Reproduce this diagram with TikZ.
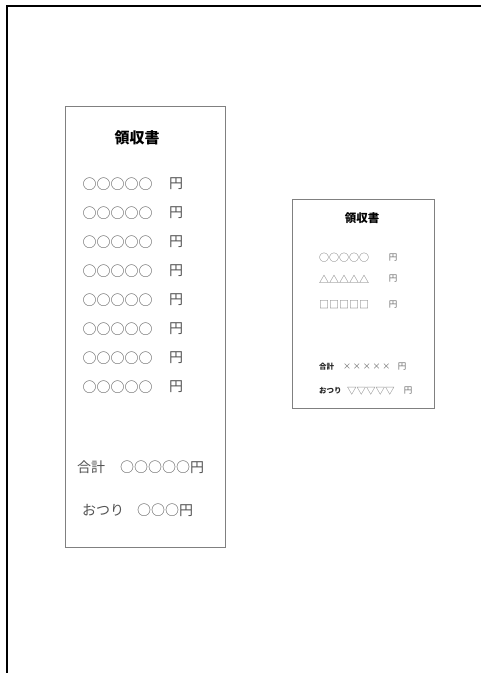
\documentclass[tikz,border=0pt]{standalone}
\usepackage{fontspec}
\setmainfont{Noto Sans CJK JP}
\usetikzlibrary{positioning}

\begin{document}
\begin{tikzpicture}[x=1pt,y=-1pt,on grid,node distance=29pt,
        receipt/.style={draw=black!50,line width=1pt,inner sep=0pt},
        bigtitle/.style={font=\fontsize{15}{15}\selectfont\bfseries},
        bigrow/.style={text=black!68,inner sep=0pt,font=\fontsize{14}{14}\selectfont},
        smalltitle/.style={font=\fontsize{11.5}{12}\selectfont\bfseries},
        smallrow/.style={text=black!60,inner sep=0pt,font=\fontsize{10}{10}\selectfont},
        smallyen/.style={text=black!60,inner sep=0pt,font=\fontsize{8.5}{9}\selectfont},
        smalllabel/.style={text=black!85,inner sep=0pt,font=\fontsize{7.5}{8}\selectfont\bfseries}]

        \useasboundingbox (0,0) rectangle (481,673);

        % page frame
        \draw[line width=2pt] (7,673) -- (7,6) -- (481,6);

        % large receipt
        \node[receipt,minimum width=160pt,minimum height=441pt] (big) at (145,326.5) { };
        \node[bigtitle] (bigT) at (137,138) {領収書};

        \node[bigrow] (B1) at (117.5,184) {○○○○○};
        \node[bigrow] (B2) [below=of B1] {○○○○○};
        \node[bigrow] (B3) [below=of B2] {○○○○○};
        \node[bigrow] (B4) [below=of B3] {○○○○○};
        \node[bigrow] (B5) [below=of B4] {○○○○○};
        \node[bigrow] (B6) [below=of B5] {○○○○○};
        \node[bigrow] (B7) [below=of B6] {○○○○○};
        \node[bigrow] (B8) [below=of B7] {○○○○○};

        \node[bigrow] (Y1) [right=58.5pt of B1] {円};
        \node[bigrow] (Y2) [right=58.5pt of B2] {円};
        \node[bigrow] (Y3) [right=58.5pt of B3] {円};
        \node[bigrow] (Y4) [right=58.5pt of B4] {円};
        \node[bigrow] (Y5) [right=58.5pt of B5] {円};
        \node[bigrow] (Y6) [right=58.5pt of B6] {円};
        \node[bigrow] (Y7) [right=58.5pt of B7] {円};
        \node[bigrow] (Y8) [right=58.5pt of B8] {円};

        \node[bigrow,anchor=west] (bigSum)  at (77,467)  {合計};
        \node[bigrow,anchor=west] (bigSumV) at (120,467) {○○○○○円};
        \node[bigrow,anchor=west] (bigChg)  at (82,510)  {おつり};
        \node[bigrow,anchor=west] (bigChgV) at (137,510) {○○○円};

        % small receipt
        \node[receipt,minimum width=142pt,minimum height=209pt] (small) at (363,303.5) { };
        \node[smalltitle] (smallT) at (362,218) {領収書};

        \node[smallrow,anchor=west] (S1) at (319,258) {○○○○○};
        \node[smallrow,anchor=west] (S2) at (319,279) {△△△△△};
        \node[smallrow,anchor=west] (S3) at (319,305) {□□□□□};
        \node[smallyen] (SY1) at (393,258) {円};
        \node[smallyen] (SY2) at (393,279) {円};
        \node[smallyen] (SY3) at (393,305) {円};

        \node[smalllabel,anchor=west] (smallSum)  at (319,367) {合計};
        \node[smallrow,anchor=west,font=\fontsize{8}{8}\selectfont] (smallSumV) at (343,367) {× × × × ×};
        \node[smallyen] (SY4) at (402,367) {円};
        \node[smalllabel,anchor=west] (smallChg)  at (319,391) {おつり};
        \node[smallrow,anchor=west,font=\fontsize{9.5}{10}\selectfont] (smallChgV) at (347,391) {▽▽▽▽▽};
        \node[smallyen] (SY5) at (408,391) {円};

\end{tikzpicture}
\end{document}
